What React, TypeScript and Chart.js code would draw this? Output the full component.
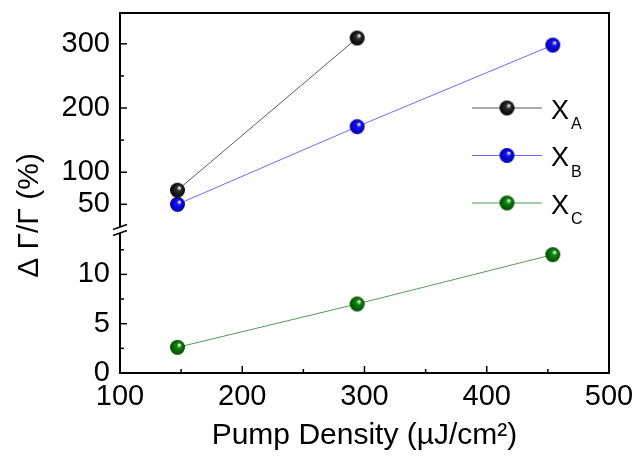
import React, { useEffect, useRef } from 'react';
import { Chart, registerables } from 'chart.js';

Chart.register(...registerables);

// ---- data ----
const pumpDensity = [147, 294, 454];
const seriesA = [72, 309];
const seriesB = [50, 171, 298];
const seriesC = [2.6, 7.0, 12.0];

const xTicks = [100, 150, 200, 250, 300, 350, 400, 450, 500];
const xLabels = [100, 200, 300, 400, 500];
const yUpperTicks = [50, 100, 150, 200, 250, 300];
const yUpperLabels = [50, 100, 200, 300];
const yLowerTicks = [0, 2.5, 5, 7.5, 10, 12.5];
const yLowerLabels = [0, 5, 10];

const seriesNames = ['A', 'B', 'C'];
const lineColors = ['#5a5a5a', '#6b6bff', '#4f9f4f'];
const sphereBase = ['#303030', '#1010ff', '#0f8a0f'];
const sphereDark = ['#000000', '#0000a0', '#004a00'];

const xTitle = 'Pump Density (µJ/cm²)';
const yTitle = 'Δ Γ/Γ (%)';

const FONT = '"Liberation Sans", Arial, Helvetica, sans-serif';

function makeSphere(base: string, dark: string, r: number): HTMLCanvasElement {
  const c = document.createElement('canvas');
  const s = Math.ceil(r * 2 + 2);
  c.width = s;
  c.height = s;
  const g = c.getContext('2d')!;
  const cx = s / 2;
  const cy = s / 2;
  const grad = g.createRadialGradient(cx + r * 0.3, cy - r * 0.35, r * 0.05, cx, cy, r);
  grad.addColorStop(0, '#ffffff');
  grad.addColorStop(0.3, base);
  grad.addColorStop(1, dark);
  g.fillStyle = grad;
  g.beginPath();
  g.arc(cx, cy, r, 0, Math.PI * 2);
  g.fill();
  return c;
}

function makeDecorPlugin(spheres: HTMLCanvasElement[]) {
  return {
    id: 'decor',
    afterDraw(chart: any) {
      const ctx: CanvasRenderingContext2D = chart.ctx;
      const { left, right, top, bottom } = chart.chartArea;
      const xs = chart.scales.x;
      const yU = chart.scales.yUp;
      const yL = chart.scales.yLow;
      const brk = yU.bottom;
      ctx.save();
      ctx.strokeStyle = '#000';
      ctx.lineWidth = 2;
      ctx.lineCap = 'butt';
      ctx.beginPath();
      ctx.moveTo(left - 1, top);
      ctx.lineTo(right, top);
      ctx.lineTo(right, bottom);
      ctx.lineTo(left - 1, bottom);
      ctx.stroke();
      const gap = 3;
      ctx.beginPath();
      ctx.moveTo(left, top);
      ctx.lineTo(left, brk - gap);
      ctx.moveTo(left, brk + gap);
      ctx.lineTo(left, bottom);
      ctx.stroke();
      ctx.lineWidth = 1.5;
      for (const off of [-gap, gap]) {
        ctx.beginPath();
        ctx.moveTo(left - 7, brk + off + 2.5);
        ctx.lineTo(left + 7, brk + off - 2.5);
        ctx.stroke();
      }
      const seg = (x1: number, y1: number, x2: number, y2: number) => {
        ctx.beginPath();
        ctx.moveTo(x1, y1);
        ctx.lineTo(x2, y2);
        ctx.stroke();
      };
      ctx.lineWidth = 1.5;
      xTicks.forEach((v) => {
        const px = xs.getPixelForValue(v);
        const len = xLabels.includes(v) ? 7 : 4;
        seg(px, bottom, px, bottom - len);
      });
      yUpperTicks.forEach((v) => {
        const py = yU.getPixelForValue(v);
        const len = yUpperLabels.includes(v) ? 7 : 4;
        seg(left, py, left + len, py);
      });
      yLowerTicks.forEach((v) => {
        const py = yL.getPixelForValue(v);
        const len = yLowerLabels.includes(v) ? 7 : 4;
        seg(left, py, left + len, py);
      });
      ctx.fillStyle = '#000';
      ctx.font = `30px ${FONT}`;
      ctx.textAlign = 'center';
      ctx.textBaseline = 'alphabetic';
      ctx.fillText(xTitle, (left + right) / 2, 443.5);
      ctx.save();
      ctx.translate(38, 215.5);
      ctx.rotate(-Math.PI / 2);
      ctx.fillText(yTitle, 0, 0);
      ctx.restore();
      seriesNames.forEach((name, i) => {
        const ry = top + 95 + i * 47.5;
        const lx0 = right - 137;
        const lx1 = right - 67;
        const mx = right - 102;
        ctx.strokeStyle = lineColors[i];
        ctx.lineWidth = 1;
        seg(lx0, ry, lx1, ry);
        const sp = spheres[i];
        ctx.drawImage(sp, mx - sp.width / 2, ry - sp.height / 2);
        ctx.fillStyle = '#000';
        ctx.textAlign = 'left';
        ctx.font = `27px ${FONT}`;
        ctx.fillText('X', right - 58, ry + 10.5);
        ctx.font = `16px ${FONT}`;
        ctx.fillText(name, right - 38, ry + 21);
      });
      ctx.restore();
    },
  };
}

export default function App() {
  const ref = useRef<HTMLCanvasElement | null>(null);
  useEffect(() => {
    const canvas = ref.current!;
    const spheres = sphereBase.map((b, i) => makeSphere(b, sphereDark[i], 7.5));
    const fitY = (s: any) => {
      s.width = 120;
      s.paddingTop = 0;
      s.paddingBottom = 0;
    };
    const tickFont = { family: FONT, size: 29 };
    const chart = new Chart(canvas, {
      type: 'line',
      data: {
        datasets: [
          {
            label: 'XA',
            data: seriesA.map((y, i) => ({ x: pumpDensity[i], y })),
            yAxisID: 'yUp',
            borderColor: lineColors[0],
            borderWidth: 1,
            pointStyle: spheres[0] as any,
            pointRadius: 7.5,
          },
          {
            label: 'XB',
            data: seriesB.map((y, i) => ({ x: pumpDensity[i], y })),
            yAxisID: 'yUp',
            borderColor: lineColors[1],
            borderWidth: 1,
            pointStyle: spheres[1] as any,
            pointRadius: 7.5,
          },
          {
            label: 'XC',
            data: seriesC.map((y, i) => ({ x: pumpDensity[i], y })),
            yAxisID: 'yLow',
            borderColor: lineColors[2],
            borderWidth: 1,
            pointStyle: spheres[2] as any,
            pointRadius: 7.5,
          },
        ],
      },
      options: {
        animation: false,
        responsive: false,
        layout: { padding: { top: 13, right: 32, left: 0, bottom: 0 } },
        plugins: { legend: { display: false }, tooltip: { enabled: false } },
        scales: {
          x: {
            type: 'linear',
            min: 100,
            max: 500,
            afterBuildTicks: (s: any) => {
              s.ticks = xTicks.map((v) => ({ value: v }));
            },
            afterFit: (s: any) => {
              s.height = 83;
              s.paddingLeft = 0;
              s.paddingRight = 0;
            },
            grid: { display: false, drawTicks: false },
            border: { display: false },
            ticks: {
              autoSkip: false,
              maxRotation: 0,
              padding: 7,
              color: '#000',
              font: tickFont,
              callback: (v: any) => (xLabels.includes(Number(v)) ? String(v) : ''),
            },
          },
          yLow: {
            type: 'linear',
            position: 'left',
            stack: 'y',
            stackWeight: 143,
            weight: 0,
            min: 0,
            max: 14.5,
            afterBuildTicks: (s: any) => {
              s.ticks = yLowerTicks.map((v) => ({ value: v }));
            },
            afterFit: fitY,
            grid: { display: false, drawTicks: false },
            border: { display: false },
            ticks: {
              autoSkip: false,
              padding: 10,
              color: '#000',
              font: tickFont,
              callback: (v: any) => (yLowerLabels.includes(Number(v)) ? String(v) : ''),
            },
          },
          yUp: {
            type: 'linear',
            position: 'left',
            stack: 'y',
            stackWeight: 217,
            weight: 1,
            min: 10,
            max: 348,
            afterBuildTicks: (s: any) => {
              s.ticks = yUpperTicks.map((v) => ({ value: v }));
            },
            afterFit: fitY,
            grid: { display: false, drawTicks: false },
            border: { display: false },
            ticks: {
              autoSkip: false,
              padding: 10,
              color: '#000',
              font: tickFont,
              callback: (v: any) => (yUpperLabels.includes(Number(v)) ? String(v) : ''),
            },
          },
        },
      } as any,
      plugins: [makeDecorPlugin(spheres) as any],
    });
    return () => chart.destroy();
  }, []);
  return (
    <div style={{ position: 'fixed', left: 0, top: 0, width: 641, height: 456, background: '#fff' }}>
      <canvas ref={ref} width={641} height={456} style={{ display: 'block', width: 641, height: 456 }} />
    </div>
  );
}
